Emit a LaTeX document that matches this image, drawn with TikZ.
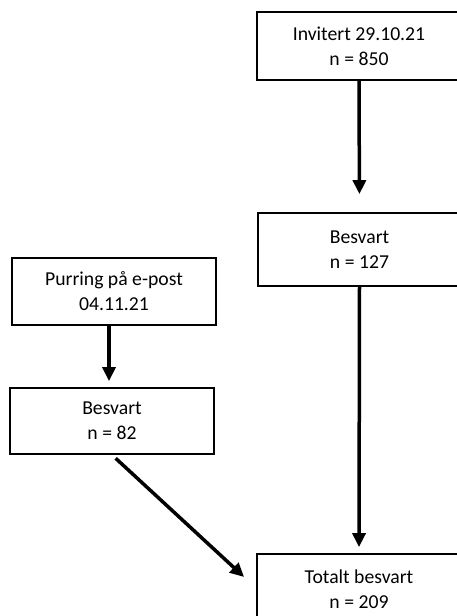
\documentclass[tikz,border=0pt]{standalone}
\usepackage{fontspec}
\setmainfont{Carlito}
\usetikzlibrary{arrows.meta}

\begin{document}
\begin{tikzpicture}[x=1pt, y=-1pt,
  box/.style={draw, line width=1.8pt, inner sep=0pt, align=center,
    font=\fontsize{19.7}{25}\selectfont},
  arr/.style={line width=3.5pt, -{Triangle[width=13pt,length=14pt]}}]
  \clip (0,0) rectangle (457,616);
  % høyre kolonne
  \node[box, minimum width=204pt, minimum height=68pt] (inv) at (359,46) {Invitert 29.10.21\\n = 850};
  \node[box, minimum width=203pt, minimum height=73pt] (besv1) at (359.5,249.5) {Besvart\\n = 127};
  \node[box, minimum width=204pt, minimum height=71pt] (tot) at (359,589.5) {Totalt besvart\\n = 209};
  % venstre kolonne
  \node[box, minimum width=204pt, minimum height=67pt] (purr) at (114,291.5) {Purring på e-post\\04.11.21};
  \node[box, minimum width=204pt, minimum height=66pt] (besv2) at (112,421) {Besvart\\n = 82};
  \coordinate (tip) at ([xshift=-12pt,yshift=12.5pt]tot.west);
  % piler
  \draw[arr, shorten >=18pt] (inv.south) -- (besv1.north);
  \draw[arr, shorten >=6pt] (besv1.south) -- (tot.north);
  \draw[arr, shorten >=6pt] ([xshift=-5pt]purr.south) -- ([xshift=-3pt]besv2.north);
  \draw[arr, shorten <=5pt] (besv2.south) -- (tip);
\end{tikzpicture}
\end{document}
